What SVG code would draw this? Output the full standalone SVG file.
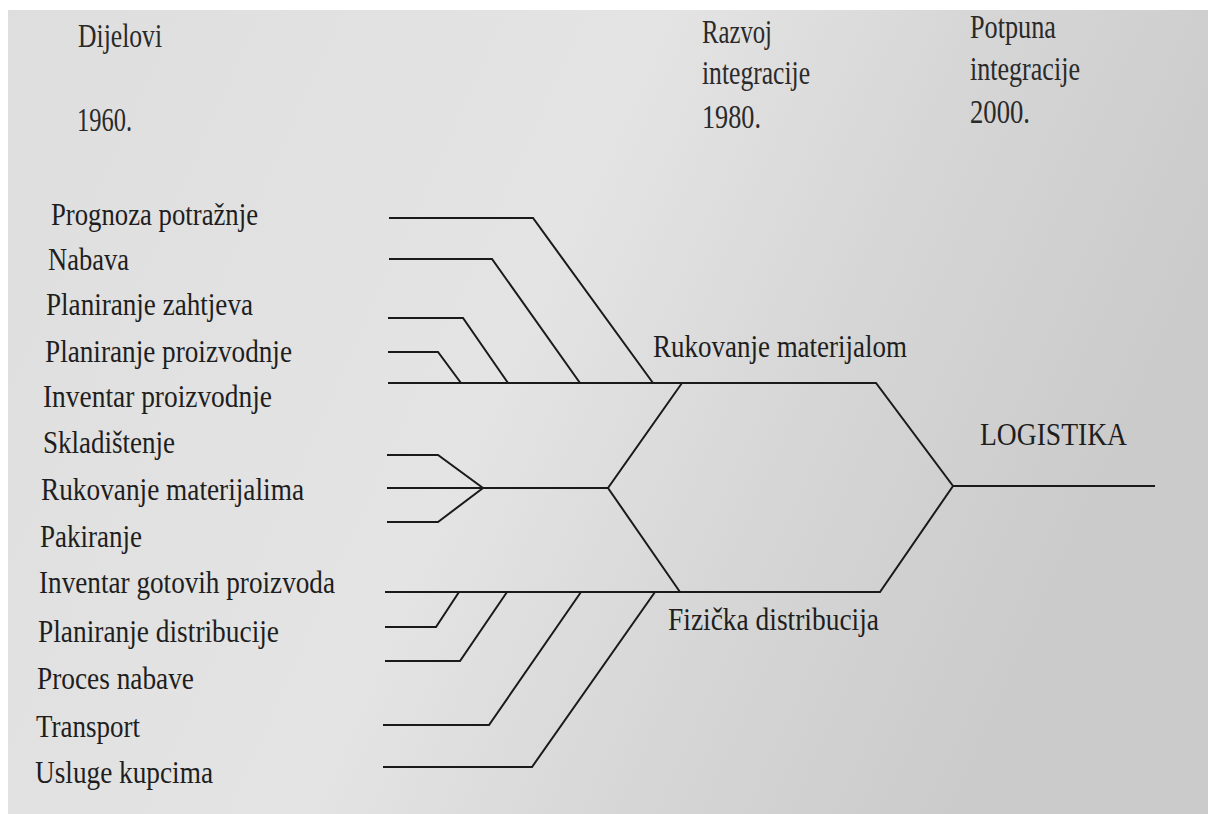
<svg xmlns="http://www.w3.org/2000/svg" width="1208" height="814" viewBox="0 0 1208 814">
  <defs>
    <linearGradient id="bg" x1="0" y1="0" x2="1" y2="0.3">
      <stop offset="0" stop-color="#dedede"/>
      <stop offset="0.5" stop-color="#e4e4e4"/>
      <stop offset="0.75" stop-color="#d6d6d6"/>
      <stop offset="1" stop-color="#cbcbcb"/>
    </linearGradient>
    <style>
      .hd { font-size: 25.5px; fill: #2a2a2a; }
      .lb { font-size: 27px; fill: #1e1e1e; }
      .ln { fill: none; stroke: #1a1a1a; stroke-width: 2; stroke-linejoin: miter; }
    </style>
  </defs>
  <rect x="0" y="0" width="1208" height="814" fill="#ffffff"/>
  <rect x="8" y="10" width="1200" height="804" fill="url(#bg)"/>

  <g font-family="Liberation Serif, Times New Roman, DejaVu Serif, serif">
  <g id="header">
    <text class="hd" transform="translate(78 47) scale(1 1.3)" textLength="84" lengthAdjust="spacingAndGlyphs">Dijelovi</text>
    <text class="hd" transform="translate(77 131) scale(1 1.3)" textLength="55" lengthAdjust="spacingAndGlyphs">1960.</text>
    <text class="hd" transform="translate(702 43) scale(1 1.3)" textLength="70" lengthAdjust="spacingAndGlyphs">Razvoj</text>
    <text class="hd" transform="translate(702 84) scale(1 1.3)" textLength="108" lengthAdjust="spacingAndGlyphs">integracije</text>
    <text class="hd" transform="translate(702 128) scale(1 1.3)" textLength="59" lengthAdjust="spacingAndGlyphs">1980.</text>
    <text class="hd" transform="translate(970 38) scale(1 1.3)" textLength="86" lengthAdjust="spacingAndGlyphs">Potpuna</text>
    <text class="hd" transform="translate(970 80) scale(1 1.3)" textLength="110" lengthAdjust="spacingAndGlyphs">integracije</text>
    <text class="hd" transform="translate(970 123) scale(1 1.3)" textLength="60" lengthAdjust="spacingAndGlyphs">2000.</text>
  </g>

  <g id="labels">
    <g id="n-prognoza"><text class="lb" transform="translate(51 225) scale(1 1.18)" textLength="207" lengthAdjust="spacingAndGlyphs">Prognoza potražnje</text></g>
    <g id="n-nabava"><text class="lb" transform="translate(48 270) scale(1 1.18)" textLength="81" lengthAdjust="spacingAndGlyphs">Nabava</text></g>
    <g id="n-plan-zaht"><text class="lb" transform="translate(46 315) scale(1 1.18)" textLength="207" lengthAdjust="spacingAndGlyphs">Planiranje zahtjeva</text></g>
    <g id="n-plan-proiz"><text class="lb" transform="translate(45 362) scale(1 1.18)" textLength="247" lengthAdjust="spacingAndGlyphs">Planiranje proizvodnje</text></g>
    <g id="n-inv-proiz"><text class="lb" transform="translate(43 407) scale(1 1.18)" textLength="229" lengthAdjust="spacingAndGlyphs">Inventar proizvodnje</text></g>
    <g id="n-sklad"><text class="lb" transform="translate(43 453) scale(1 1.18)" textLength="132" lengthAdjust="spacingAndGlyphs">Skladištenje</text></g>
    <g id="n-ruk-mat"><text class="lb" transform="translate(41 500) scale(1 1.18)" textLength="263" lengthAdjust="spacingAndGlyphs">Rukovanje materijalima</text></g>
    <g id="n-pakir"><text class="lb" transform="translate(40 547) scale(1 1.18)" textLength="102" lengthAdjust="spacingAndGlyphs">Pakiranje</text></g>
    <g id="n-inv-got"><text class="lb" transform="translate(39 593) scale(1 1.18)" textLength="296" lengthAdjust="spacingAndGlyphs">Inventar gotovih proizvoda</text></g>
    <g id="n-plan-dist"><text class="lb" transform="translate(38 642) scale(1 1.18)" textLength="241" lengthAdjust="spacingAndGlyphs">Planiranje distribucije</text></g>
    <g id="n-proc-nab"><text class="lb" transform="translate(37 689) scale(1 1.18)" textLength="157" lengthAdjust="spacingAndGlyphs">Proces nabave</text></g>
    <g id="n-transport"><text class="lb" transform="translate(36 737) scale(1 1.18)" textLength="104" lengthAdjust="spacingAndGlyphs">Transport</text></g>
    <g id="n-usluge"><text class="lb" transform="translate(35 783) scale(1 1.18)" textLength="178" lengthAdjust="spacingAndGlyphs">Usluge kupcima</text></g>
  </g>

  <g id="n-rukovanje-materijalom"><text class="lb" transform="translate(653 357) scale(1 1.18)" textLength="254" lengthAdjust="spacingAndGlyphs">Rukovanje materijalom</text></g>
  <g id="n-fizicka-distribucija"><text class="lb" transform="translate(668 630) scale(1 1.18)" textLength="211" lengthAdjust="spacingAndGlyphs">Fizička distribucija</text></g>
  <g id="n-logistika"><text class="lb" transform="translate(980 445) scale(1 1.18)" textLength="147" lengthAdjust="spacingAndGlyphs">LOGISTIKA</text></g>
  </g>

  <g id="connectors">
    <polyline class="ln" points="389,218 533,218 653,383"/>
    <polyline class="ln" points="389,259 492,259 580,383"/>
    <polyline class="ln" points="388,318 463,318 508,383"/>
    <polyline class="ln" points="388,352 438,352 461,383"/>
    <polyline class="ln" points="388,383 876,383 953,486 880,592 385,592"/>
    <polyline class="ln" points="682,383 608,488 680,592"/>
    <line class="ln" x1="387" y1="488" x2="608" y2="488"/>
    <polyline class="ln" points="387,455 438,455 483,488 438,522 387,522"/>
    <line class="ln" x1="953" y1="486" x2="1155" y2="486"/>
    <polyline class="ln" points="459,592 436,627 385,627"/>
    <polyline class="ln" points="507,592 460,661 385,661"/>
    <polyline class="ln" points="581,592 489,725 383,725"/>
    <polyline class="ln" points="655,592 532,767 383,767"/>
  </g>
</svg>
